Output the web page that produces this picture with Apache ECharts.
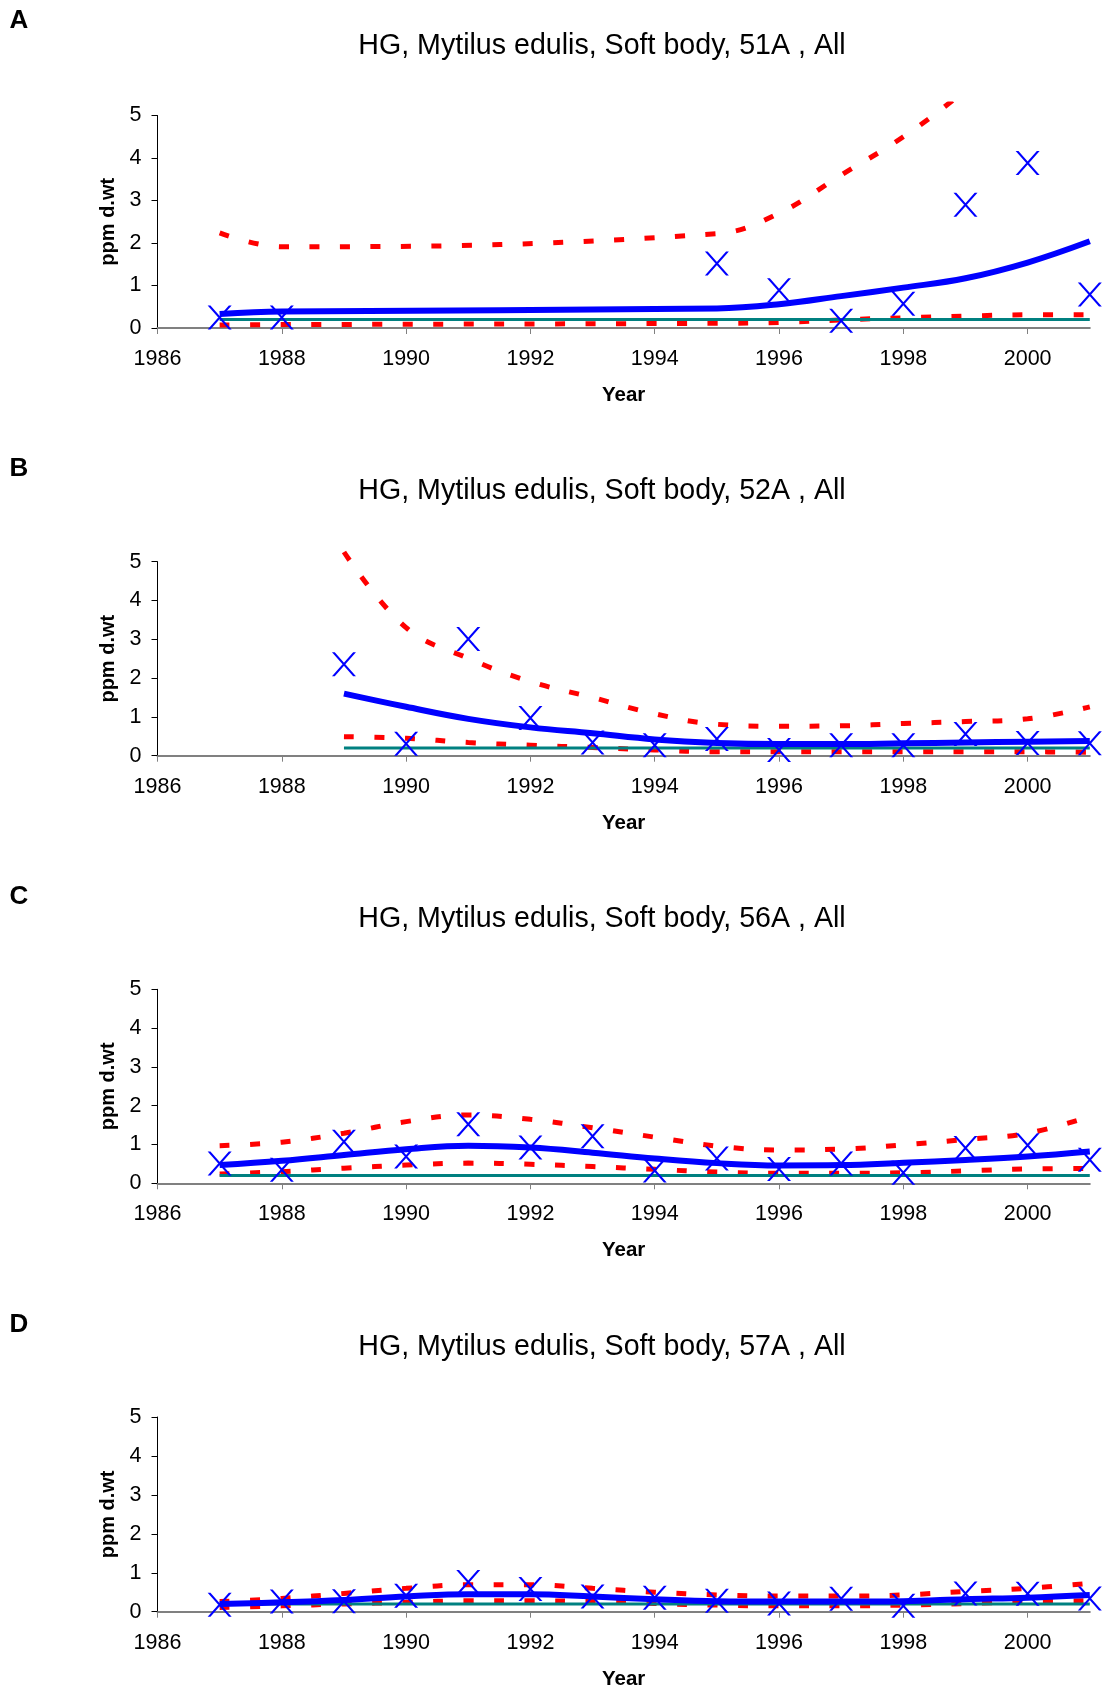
<!DOCTYPE html>
<html>
<head>
<meta charset="utf-8">
<script src="https://cdn.jsdelivr.net/npm/echarts@6/dist/echarts.min.js"></script>
<style>
html,body{margin:0;padding:0;background:#fff;}
#chart{width:1102px;height:1691px;}
</style>
</head>
<body>
<div id="chart"></div>
<script>
// ---------------- DATA ----------------
const xTickYears = [1986, 1988, 1990, 1992, 1994, 1996, 1998, 2000];
const panelLetters = ['A', 'B', 'C', 'D'];
const panelTitles = [
  'HG, Mytilus edulis, Soft body, 51A , All',
  'HG, Mytilus edulis, Soft body, 52A , All',
  'HG, Mytilus edulis, Soft body, 56A , All',
  'HG, Mytilus edulis, Soft body, 57A , All'
];
const refLevel = 0.2; // teal reference line

// Panel A (51A)
const A_years = [1987, 1988, 1995, 1996, 1997, 1998, 1999, 2000, 2001];
const A_obs   = [0.25, 0.25, 1.52, 0.89, 0.17, 0.57, 2.90, 3.88, 0.79];
const A_trend = [0.33, 0.39, 0.46, 0.56, 0.75, 0.95, 1.17, 1.54, 2.04];
const A_upper = [2.24, 1.91, 2.22, 2.70, 3.60, 4.50, 5.60, 6.90, 8.50];
const A_lower = [0.07, 0.08, 0.11, 0.13, 0.19, 0.24, 0.28, 0.31, 0.31];

// Panel B (52A)
const B_years = [1989, 1990, 1991, 1992, 1993, 1994, 1995, 1996, 1997, 1998, 1999, 2000, 2001];
const B_obs   = [2.36, 0.31, 3.01, 0.97, 0.34, 0.27, 0.43, 0.15, 0.27, 0.27, 0.56, 0.33, 0.32];
const B_trend = [1.60, 1.26, 0.95, 0.73, 0.58, 0.42, 0.33, 0.30, 0.30, 0.32, 0.34, 0.36, 0.38];
const B_upper = [5.25, 3.30, 2.51, 1.91, 1.50, 1.08, 0.81, 0.76, 0.77, 0.83, 0.88, 0.95, 1.26];
const B_lower = [0.49, 0.45, 0.34, 0.27, 0.21, 0.15, 0.10, 0.10, 0.10, 0.10, 0.10, 0.10, 0.09];

// Panel C (56A)
const C_years = [1987, 1988, 1989, 1990, 1991, 1992, 1993, 1994, 1995, 1996, 1997, 1998, 1999, 2000, 2001];
const C_obs   = [0.51, 0.35, 1.07, 0.69, 1.52, 0.92, 1.21, 0.33, 0.64, 0.37, 0.51, 0.27, 0.91, 0.98, 0.61];
const C_trend = [0.47, 0.58, 0.73, 0.88, 0.97, 0.92, 0.79, 0.64, 0.52, 0.46, 0.47, 0.53, 0.60, 0.69, 0.82];
const C_upper = [0.97, 1.06, 1.29, 1.59, 1.76, 1.65, 1.43, 1.19, 0.96, 0.86, 0.88, 0.99, 1.13, 1.29, 1.72];
const C_lower = [0.24, 0.30, 0.39, 0.47, 0.52, 0.49, 0.43, 0.36, 0.29, 0.26, 0.26, 0.27, 0.32, 0.37, 0.38];

// Panel D (57A)
const D_years = [1987, 1988, 1989, 1990, 1991, 1992, 1993, 1994, 1995, 1996, 1997, 1998, 1999, 2000, 2001];
const D_obs   = [0.18, 0.26, 0.27, 0.41, 0.76, 0.58, 0.39, 0.36, 0.28, 0.21, 0.33, 0.15, 0.47, 0.46, 0.34];
const D_trend = [0.20, 0.24, 0.30, 0.39, 0.45, 0.45, 0.39, 0.32, 0.27, 0.26, 0.26, 0.27, 0.32, 0.36, 0.43];
const D_upper = [0.26, 0.34, 0.47, 0.60, 0.69, 0.69, 0.60, 0.50, 0.43, 0.40, 0.40, 0.43, 0.52, 0.60, 0.73];
const D_lower = [0.11, 0.15, 0.20, 0.24, 0.28, 0.28, 0.26, 0.21, 0.17, 0.15, 0.15, 0.17, 0.21, 0.26, 0.28];

// ---------------- LAYOUT ----------------
const panels = [
  {years: A_years, obs: A_obs, trend: A_trend, upper: A_upper, lower: A_lower},
  {years: B_years, obs: B_obs, trend: B_trend, upper: B_upper, lower: B_lower},
  {years: C_years, obs: C_obs, trend: C_trend, upper: C_upper, lower: C_lower},
  {years: D_years, obs: D_obs, trend: D_trend, upper: D_upper, lower: D_lower}
];
const axisTop    = [115.5, 561.7, 989.3, 1417.0];
const axisBottom = [328.0, 755.7, 1183.3, 1611.7];
const titleY  = [45.8, 491.5, 919.0, 1347.3];
const letterY = [21.0, 468.8, 896.8, 1325.1];
const gridLeft = 157.5, gridRight = 12.2;
const yMax = 5, clipMax = 5.27;
const FONT = '"Liberation Sans", Arial, sans-serif';

const zip = (xs, ys) => xs.map((x, i) => [x, ys[i]]);
const xMark = 'path://M0,0 L2.8,0 L24,24 L21.2,24 Z M21.2,0 L24,0 L2.8,24 L0,24 Z';

const grids = [], xAxes = [], yAxes = [], series = [], graphics = [];

panels.forEach((p, i) => {
  const h = axisBottom[i] - axisTop[i];
  const unit = h / yMax;
  const clipTop = axisTop[i] - (clipMax - yMax) * unit;
  // axis grid
  grids.push({left: gridLeft, right: gridRight, top: axisTop[i], height: h, containLabel: false});
  // clip grid for lines
  grids.push({left: gridLeft, right: gridRight, top: clipTop, height: axisBottom[i] - clipTop, containLabel: false});
  const ga = 2 * i, gc = 2 * i + 1;
  xAxes.push({
    gridIndex: ga, type: 'value', min: 1986, max: 2001, interval: 2,
    axisLine: {show: true, onZero: false, lineStyle: {color: '#808080', width: 2}},
    axisTick: {show: true, length: 6, customValues: xTickYears, lineStyle: {color: '#808080', width: 1}},
    axisLabel: {show: true, customValues: xTickYears, margin: 20, color: '#000',
      fontSize: 21.5, fontFamily: FONT, formatter: v => String(v)},
    splitLine: {show: false},
    name: 'Year', nameLocation: 'middle', nameGap: 57,
    nameTextStyle: {fontSize: 20.5, fontWeight: 'bold', color: '#000', fontFamily: FONT}
  });
  xAxes.push({gridIndex: gc, type: 'value', min: 1986, max: 2001, show: false});
  yAxes.push({
    gridIndex: ga, type: 'value', min: 0, max: yMax, interval: 1,
    axisLine: {show: true, lineStyle: {color: '#000', width: 1}},
    axisTick: {show: true, length: 6, lineStyle: {color: '#000', width: 1}},
    axisLabel: {show: true, margin: 16, color: '#000', fontSize: 21.5, fontFamily: FONT},
    splitLine: {show: false},
    name: 'ppm d.wt', nameLocation: 'middle', nameGap: 39,
    nameTextStyle: {fontSize: 20, fontWeight: 'bold', color: '#000', fontFamily: FONT}
  });
  yAxes.push({gridIndex: gc, type: 'value', min: 0, max: clipMax, show: false});

  const lineBase = {type: 'line', xAxisIndex: gc, yAxisIndex: gc, showSymbol: false, symbol: 'none',
    clip: true, animation: false, silent: true};
  series.push(Object.assign({}, lineBase, {
    data: zip(p.years, p.lower), smooth: 0.4,
    lineStyle: {color: '#FF0000', width: 5, type: [10, 20.5], cap: 'butt'}
  }));
  series.push(Object.assign({}, lineBase, {
    data: zip(p.years, p.upper), smooth: 0.4,
    lineStyle: {color: '#FF0000', width: 5, type: [10, 20.5], cap: 'butt'}
  }));
  series.push(Object.assign({}, lineBase, {
    data: [[p.years[0], refLevel], [p.years[p.years.length - 1], refLevel]],
    lineStyle: {color: '#008080', width: 3, type: 'solid'}
  }));
  series.push(Object.assign({}, lineBase, {
    data: zip(p.years, p.trend), smooth: 0.4,
    lineStyle: {color: '#0000FF', width: 6, type: 'solid', cap: 'butt', join: 'round'}
  }));
  series.push({
    type: 'scatter', xAxisIndex: ga, yAxisIndex: ga, data: zip(p.years, p.obs),
    symbol: xMark, symbolSize: 24, clip: false, animation: false, silent: true,
    itemStyle: {color: '#0000FF', opacity: 1}, z: 5
  });

  graphics.push({type: 'text', x: 9.5, y: letterY[i], silent: true,
    style: {text: panelLetters[i], fill: '#000', font: 'bold 26px ' + FONT, align: 'left', verticalAlign: 'middle'}});
  graphics.push({type: 'text', x: 602, y: titleY[i], silent: true,
    style: {text: panelTitles[i], fill: '#000', font: '28.6px ' + FONT, align: 'center', verticalAlign: 'middle'}});
});

const chart = echarts.init(document.getElementById('chart'), null, {renderer: 'canvas'});
chart.setOption({
  backgroundColor: '#fff',
  animation: false,
  grid: grids,
  xAxis: xAxes,
  yAxis: yAxes,
  series: series,
  graphic: graphics
});
</script>
</body>
</html>
